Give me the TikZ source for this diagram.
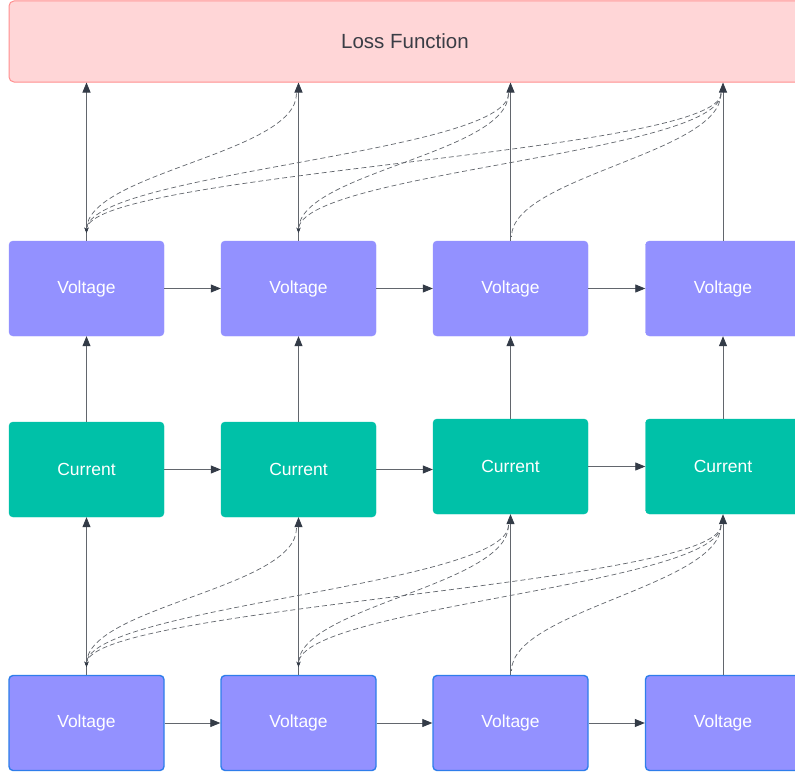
\documentclass[tikz,border=0pt]{standalone}
\usepackage{fontspec}
\setmainfont{Liberation Sans}
\usetikzlibrary{arrows.meta,calc}
\definecolor{voltfill}{HTML}{9391FF}
\definecolor{voltedge}{HTML}{2F7EEB}
\definecolor{curfill}{HTML}{00C1A8}
\definecolor{lossfill}{HTML}{FFD6D7}
\definecolor{lossedge}{HTML}{FF8F8F}
\definecolor{linecol}{HTML}{62666D}
\definecolor{tipcol}{HTML}{333B47}
\definecolor{losstext}{HTML}{3A3D45}
\tikzset{
  boxbase/.style={rectangle, rounded corners=4pt, minimum width=155pt, minimum height=95pt, inner sep=0pt, text=white, font=\fontsize{17.5}{20}\selectfont},
  vbox/.style={boxbase, fill=voltfill, draw=voltfill},
  vbbox/.style={boxbase, fill=voltfill, draw=voltedge, line width=1.4pt},
  cbox/.style={boxbase, fill=curfill, draw=curfill},
  lossbox/.style={rectangle, rounded corners=5pt, minimum width=792pt, minimum height=81pt, inner sep=0pt, fill=lossfill, draw=lossedge, line width=1pt, text=losstext, font=\fontsize{20.5}{24}\selectfont},
  arr/.style={draw=linecol, line width=0.8pt, -{Triangle[length=10pt,width=8pt,color=tipcol]}},
  grad/.style={draw=linecol, line width=0.7pt, dash pattern=on 5pt off 3pt},
  gradtip/.style={grad, -{Stealth[length=5pt,width=4pt,color=tipcol]}}
}
\begin{document}
\begin{tikzpicture}[x=1pt,y=-1pt]
\useasboundingbox (0,0) rectangle (795,776);
\clip (0,0) rectangle (795,776);
\fill[white] (0,0) rectangle (795,776);

\node[lossbox] (loss) at (405,41.5) {Loss Function};

\node[vbox] (v1) at (86.5,288.5) {Voltage};
\node[vbox] (v2) at (298.5,288.5) {Voltage};
\node[vbox] (v3) at (510.5,288.5) {Voltage};
\node[vbox] (v4) at (723,288.5) {Voltage};

\node[cbox] (c1) at (86.5,469.5) {Current};
\node[cbox] (c2) at (298.5,469.5) {Current};
\node[cbox] (c3) at (510.5,466.5) {Current};
\node[cbox] (c4) at (723,466.5) {Current};

\node[vbbox] (b1) at (86.5,723) {Voltage};
\node[vbbox] (b2) at (298.5,723) {Voltage};
\node[vbbox] (b3) at (510.5,723) {Voltage};
\node[vbbox] (b4) at (723,723) {Voltage};

% solid arrows to loss
\foreach \n in {v1,v2,v3,v4}
  \draw[arr] (\n.north) -- (\n.north |- loss.south);

% horizontal arrows
\draw[arr] (v1.east) -- (v2.west);
\draw[arr] (v2.east) -- (v3.west);
\draw[arr] (v3.east) -- (v4.west);
\draw[arr] (c1.east) -- (c2.west);
\draw[arr] (c2.east) -- (c2.east -| c3.west);
\draw[arr] (c3.east) -- (c4.west);
\draw[arr] (b1.east) -- (b2.west);
\draw[arr] (b2.east) -- (b3.west);
\draw[arr] (b3.east) -- (b4.west);

% current to voltage
\foreach \n in {1,2,3,4}
  \draw[arr] (c\n.north) -- (v\n.south);
% bottom voltage to current
\foreach \n in {1,2,3,4}
  \draw[arr] (b\n.north) -- (c\n.south);

% dashed gradient curves, top section
\foreach \s/\t in {v1/v2,v1/v3,v1/v4,v2/v3,v2/v4}
  \draw[gradtip] ($(\t.north |- loss.south)+(-2,11)$) .. controls +(0,60) and +(0,-60) .. ($(\s.north)+(0,-8)$);
\draw[grad] ($(v4.north |- loss.south)+(-2,11)$) .. controls +(0,60) and +(0,-60) .. ($(v3.north)+(1,-4)$);

% dashed gradient curves, bottom section
\foreach \s/\t in {b1/c2,b1/c3,b1/c4,b2/c3,b2/c4}
  \draw[gradtip] ($(\t.south)+(-2,11)$) .. controls +(0,60) and +(0,-60) .. ($(\s.north)+(0,-8)$);
\draw[grad] ($(c4.south)+(-2,11)$) .. controls +(0,60) and +(0,-60) .. ($(b3.north)+(1,-4)$);
\end{tikzpicture}
\end{document}
